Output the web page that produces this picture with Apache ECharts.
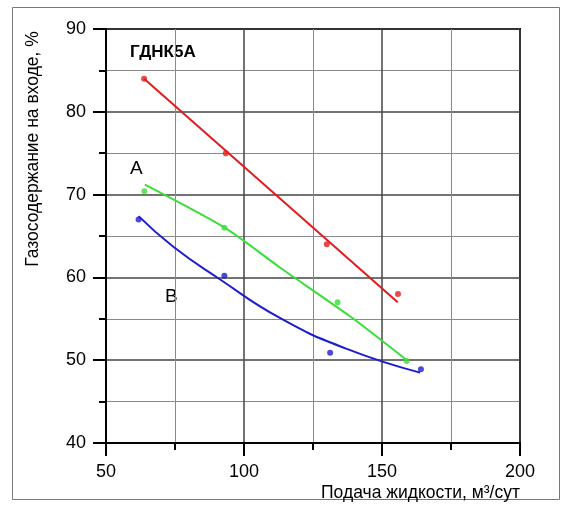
<!DOCTYPE html>
<html>
<head>
<meta charset="utf-8">
<script src="https://cdn.jsdelivr.net/npm/echarts@6/dist/echarts.min.js"></script>
<style>
html,body{margin:0;padding:0;background:#fff;}
#c{width:567px;height:510px;}
</style>
</head>
<body>
<div id="c"></div>
<script>
// Measured points
const redPoints = [[63.8, 84.0], [93.4, 75.0], [130.0, 64.0], [155.8, 58.0]];
const greenPoints = [[63.9, 70.4], [92.9, 66.0], [133.9, 57.0], [158.9, 49.9]];
const bluePoints = [[61.8, 67.0], [92.9, 60.2], [131.2, 50.9], [164.1, 48.9]];
// Trend curves
const redCurve = [[63.8, 84.0], [155.7, 57.0]];
const greenCurve = [[64.1, 71.2], [93.0, 66.0], [113.0, 61.2], [138.4, 55.3], [159.0, 50.0]];
const blueCurve = [[61.8, 67.4], [74.4, 63.7], [90.7, 59.9], [113.0, 55.1], [137.0, 51.4], [163.8, 48.5]];
const xTicks = [50, 100, 150, 200];
const yTicks = [40, 50, 60, 70, 80, 90];
const chartTitle = 'ГДНК5А';
const xName = 'Подача жидкости, м³/сут';
const yName = 'Газосодержание на входе, %';
const curveLabels = ['A', 'B'];

const FONT = 'Liberation Sans, Arial, sans-serif';
const RED = '#e31b1e', GREEN = '#3ade3a', BLUE = '#1d1dcf';

const chart = echarts.init(document.getElementById('c'), null, {renderer: 'canvas'});

function axisCommon(ticks) {
  return {
    min: ticks[0], max: ticks[ticks.length - 1], interval: ticks[1] - ticks[0],
    axisLine: {show: true, onZero: false, lineStyle: {color: '#000', width: 2}},
    axisTick: {show: true, inside: false, length: 13, lineStyle: {color: '#000', width: 2}},
    minorTick: {show: true, splitNumber: 2, length: 7, lineStyle: {color: '#000', width: 2}},
    splitLine: {show: true, lineStyle: {color: '#444', width: 1.5}},
    minorSplitLine: {show: true, lineStyle: {color: '#8a8a8a', width: 1}},
    axisLabel: {color: '#000', fontFamily: FONT, fontSize: 18, margin: 20},
    nameTextStyle: {color: '#000', fontFamily: FONT, fontSize: 17.5}
  };
}

const xAxis = Object.assign(axisCommon(xTicks), {
  type: 'value', name: xName, nameLocation: 'end', nameGap: 0,
});
xAxis.nameTextStyle = Object.assign({}, xAxis.nameTextStyle, {align: 'right', verticalAlign: 'top', padding: [41, 0, 0, 0]});
const yAxis = Object.assign(axisCommon(yTicks), {type: 'value'});

function pts(data, color) {
  return {type: 'scatter', data: data, symbol: 'circle', symbolSize: 6,
    itemStyle: {color: color}, z: 5, silent: true};
}
function curve(data, color, s) {
  return {type: 'line', data: data, smooth: s, showSymbol: false, symbol: 'none',
    lineStyle: {color: color, width: 2}, z: 4, silent: true};
}

chart.setOption({
  animation: false,
  backgroundColor: '#fff',
  grid: {left: 106, top: 29, width: 414, height: 414, show: true, borderColor: '#000', borderWidth: 2, containLabel: false},
  xAxis: xAxis,
  yAxis: yAxis,
  graphic: [
    {type: 'rect', left: 10, top: 5, shape: {width: 547, height: 492}, style: {fill: 'none', stroke: '#777', lineWidth: 1}, z: -10},
    {type: 'text', x: 33, y: 149, rotation: Math.PI / 2,
      style: {text: yName, font: '17.5px ' + FONT, fill: '#000', align: 'center', verticalAlign: 'middle'}},
    {type: 'text', left: 130, top: 44, style: {text: chartTitle, font: 'bold 17px ' + FONT, fill: '#000'}},
    {type: 'text', left: 130, top: 159, style: {text: curveLabels[0], font: '19px ' + FONT, fill: '#000'}},
    {type: 'text', left: 165, top: 287, style: {text: curveLabels[1], font: '19px ' + FONT, fill: '#000'}}
  ],
  series: [
    curve(redCurve, RED, false), curve(greenCurve, GREEN, 0.25), curve(blueCurve, BLUE, 0.5),
    pts(redPoints, RED), pts(greenPoints, GREEN), pts(bluePoints, BLUE)
  ]
});
</script>
</body>
</html>
